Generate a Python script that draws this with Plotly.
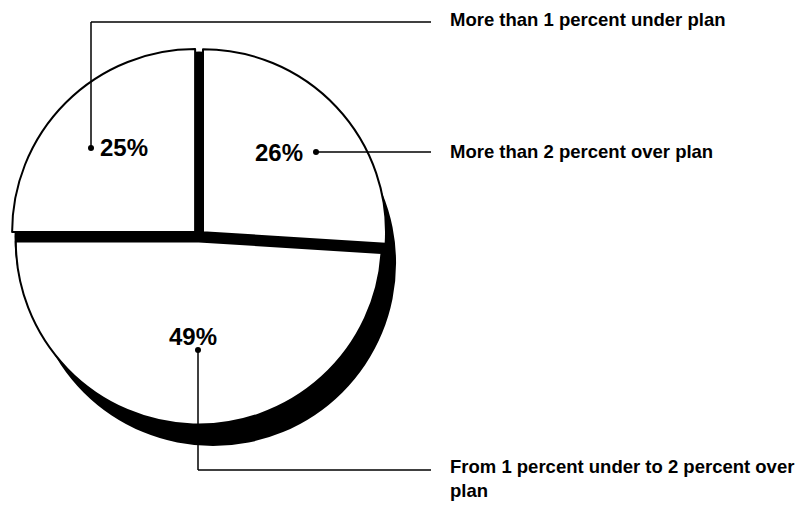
import plotly.graph_objects as go

W, H = 806, 505

# Data
categories = ["More than 2 percent over plan",
              "From 1 percent under to 2 percent over<br>plan",
              "More than 1 percent under plan"]
values = [26, 49, 25]
pct_labels = ["26%", "49%", "25%"]

# Layout positions (pixels from top-left)
pie_center = (199, 236)
pie_radius = 183
pull = 0.03
shadow_offset = (14, 27)

# percent-label positions and leader-line paths (pixel coordinates)
pct_pos = [(279, 152), (193, 336), (124, 147)]
dots = [(316, 152), (198, 350), (91, 148)]
leader_paths = [
    [(316, 152), (431, 152)],
    [(198, 350), (198, 470), (431, 470)],
    [(91, 148), (91, 22), (431, 22)],
]
label_pos = [(448, 151), (448, 478), (448, 19)]


def dom(cx, cy, r, p=0.0):
    d = r * (1 + p)
    return dict(x=[(cx - d) / W, (cx + d) / W],
                y=[(H - cy - d) / H, (H - cy + d) / H])


fig = go.Figure()

# shadow pie (solid black, offset)
sx, sy = pie_center[0] + shadow_offset[0], pie_center[1] + shadow_offset[1]
fig.add_trace(go.Pie(values=[1], labels=["shadow"], sort=False,
                     marker=dict(colors=["black"], line=dict(color="black", width=0)),
                     textinfo="none", hoverinfo="skip", showlegend=False,
                     domain=dom(sx, sy, pie_radius)))

# black base disc that shows through the gaps between exploded slices
fig.add_trace(go.Pie(values=[1], labels=["base"], sort=False,
                     marker=dict(colors=["black"], line=dict(color="black", width=0)),
                     textinfo="none", hoverinfo="skip", showlegend=False,
                     domain=dom(pie_center[0], pie_center[1], pie_radius + 1.5)))

fig.add_trace(go.Pie(values=values, labels=categories, sort=False,
                     direction="clockwise", rotation=0,
                     pull=[pull] * len(values),
                     marker=dict(colors=["white"] * len(values),
                                 line=dict(color="black", width=2)),
                     textinfo="none", hoverinfo="label+percent", showlegend=False,
                     domain=dom(pie_center[0], pie_center[1], pie_radius, pull)))

shapes = []
for path in leader_paths:
    for (x0, y0), (x1, y1) in zip(path[:-1], path[1:]):
        shapes.append(dict(type="line", xref="x", yref="y", x0=x0, y0=y0, x1=x1, y1=y1,
                           line=dict(color="black", width=1.5), layer="above"))
for (x, y) in dots:
    shapes.append(dict(type="circle", xref="x", yref="y", x0=x - 3, x1=x + 3,
                       y0=y - 3, y1=y + 3, fillcolor="black",
                       line=dict(color="black", width=0), layer="above"))

annotations = []
for (x, y), t in zip(pct_pos, pct_labels):
    annotations.append(dict(x=x, y=y, xref="x", yref="y", text=t, showarrow=False,
                            font=dict(family="Liberation Sans, Arial", size=24, color="black", weight="bold"),
                            xanchor="center", yanchor="middle"))
for (x, y), t in zip(label_pos, categories):
    annotations.append(dict(x=x, y=y, xref="x", yref="y", text=t, showarrow=False,
                            font=dict(family="Liberation Sans, Arial", size=18.5, color="black", weight="bold"),
                            xanchor="left", yanchor="middle", align="left"))

fig.update_layout(
    width=W, height=H, margin=dict(l=0, r=0, t=0, b=0),
    paper_bgcolor="white", plot_bgcolor="rgba(0,0,0,0)",
    xaxis=dict(range=[0, W], visible=False, fixedrange=True, domain=[0, 1]),
    yaxis=dict(range=[H, 0], visible=False, fixedrange=True, domain=[0, 1]),
    shapes=shapes, annotations=annotations, showlegend=False,
)

fig.write_html("out.html", config={"displayModeBar": False},
               post_script="document.body.style.margin='0';")
